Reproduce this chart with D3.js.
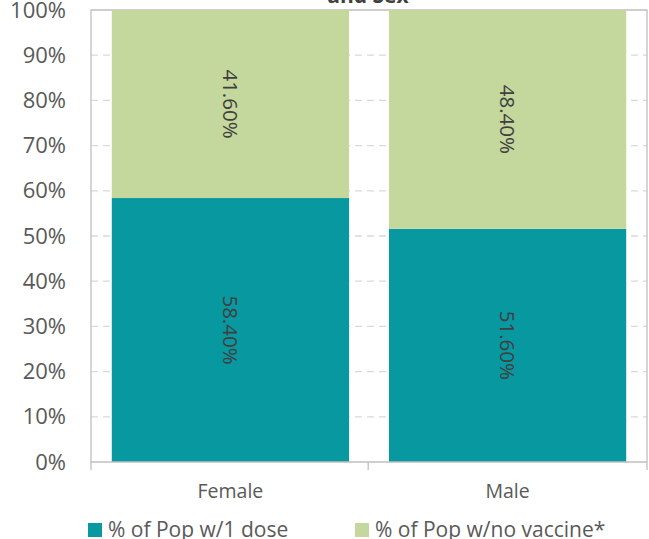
<!DOCTYPE html>
<html><head><meta charset="utf-8">
<script src="https://cdn.jsdelivr.net/npm/d3@7"></script>
<style>body{margin:0;background:#fff;} svg{display:block;font-family:"Open Sans","Liberation Sans",sans-serif;} svg text{font-family:"Open Sans","Liberation Sans",sans-serif;}</style>
</head><body>
<svg id="c" width="649" height="539"></svg>
<script>
const categories = ["Female", "Male"];
const seriesNames = ["% of Pop w/1 dose", "% of Pop w/no vaccine*"];
const oneDose = [0.584, 0.516];
const noVaccine = [0.416, 0.484];
const yTicks = [0, 0.1, 0.2, 0.3, 0.4, 0.5, 0.6, 0.7, 0.8, 0.9, 1.0];
const colors = ["#0898a0", "#c4d79c"];
const titleText = "and Sex";

(function(){
const svg = d3.select("#c");
const pL = 91, pR = 647, pT = 10, pB = 462;
const x = d3.scaleBand().domain(categories).range([pL, pR]).paddingInner(0.144).paddingOuter(0.075);
const y = d3.scaleLinear().domain([0, 1]).range([pB, pT]);

// title (cut off at top edge as in the reference)
svg.append("text").attr("x", 368).attr("y", 3).attr("text-anchor", "middle")
  .attr("font-size", 21).attr("font-weight", "bold").attr("fill", "#404040").text(titleText);

// gridlines
svg.append("g").selectAll("line").data(yTicks.filter(d => d > 0 && d < 1)).join("line")
  .attr("x1", pL).attr("x2", pR).attr("y1", d => y(d)).attr("y2", d => y(d))
  .attr("stroke", "#d9d9d9").attr("stroke-width", 1.3).attr("stroke-dasharray", "7,5");

// frame
svg.append("path").attr("d", `M${pL},${pB}V${pT}H${pR}V${pB}`)
  .attr("fill", "none").attr("stroke", "#bfbfbf").attr("stroke-width", 1.3);

// stacked data
const rows = categories.map((c, i) => ({cat: c, a: oneDose[i], b: noVaccine[i]}));
const stack = d3.stack().keys(["a", "b"])(rows);
const g = svg.append("g");
stack.forEach((s, si) => {
  g.selectAll(null).data(s).join("rect")
    .attr("x", d => x(d.data.cat)).attr("width", x.bandwidth())
    .attr("y", d => y(d[1])).attr("height", d => y(d[0]) - y(d[1]))
    .attr("fill", colors[si]);
  g.selectAll(null).data(s).join("text")
    .attr("transform", d => `translate(${x(d.data.cat) + x.bandwidth()/2},${y((d[0]+d[1])/2)}) rotate(90)`)
    .attr("text-anchor", "middle").attr("dy", "0.35em")
    .attr("font-size", 20.5).attr("fill", "#404040")
    .text(d => ((d[1]-d[0])*100).toFixed(2) + "%");
});

// x axis
const xa = svg.append("g").attr("transform", `translate(0,${pB})`)
  .call(d3.axisBottom(x).tickSize(0).tickPadding(0));
xa.select(".domain").remove();
xa.selectAll("text").attr("font-size", 19.5).attr("fill", "#595959").attr("dy", 0).attr("y", 36);
const boundaries = [pL, pL + x.step(), pR];
svg.append("g").selectAll("line").data(boundaries).join("line")
  .attr("x1", d => d).attr("x2", d => d).attr("y1", pB).attr("y2", pB + 8)
  .attr("stroke", "#bfbfbf").attr("stroke-width", 1.3);
svg.append("line").attr("x1", pL).attr("x2", pR).attr("y1", pB).attr("y2", pB)
  .attr("stroke", "#bfbfbf").attr("stroke-width", 1.3);

// y axis labels
const ya = svg.append("g").attr("transform", `translate(${pL},0)`)
  .call(d3.axisLeft(y).tickValues(yTicks).tickFormat(d3.format(".0%")).tickSize(0).tickPadding(25));
ya.select(".domain").remove();
ya.selectAll("text").attr("font-size", 22).attr("fill", "#595959");

// legend
const legendX = [88, 355];
const lg = svg.append("g");
seriesNames.forEach((n, i) => {
  lg.append("rect").attr("x", legendX[i]).attr("y", 523).attr("width", 14).attr("height", 14).attr("fill", colors[i]);
  lg.append("text").attr("x", legendX[i] + 20).attr("y", 537).attr("font-size", 21).attr("fill", "#595959").text(n);
});
})();
</script>
</body></html>
